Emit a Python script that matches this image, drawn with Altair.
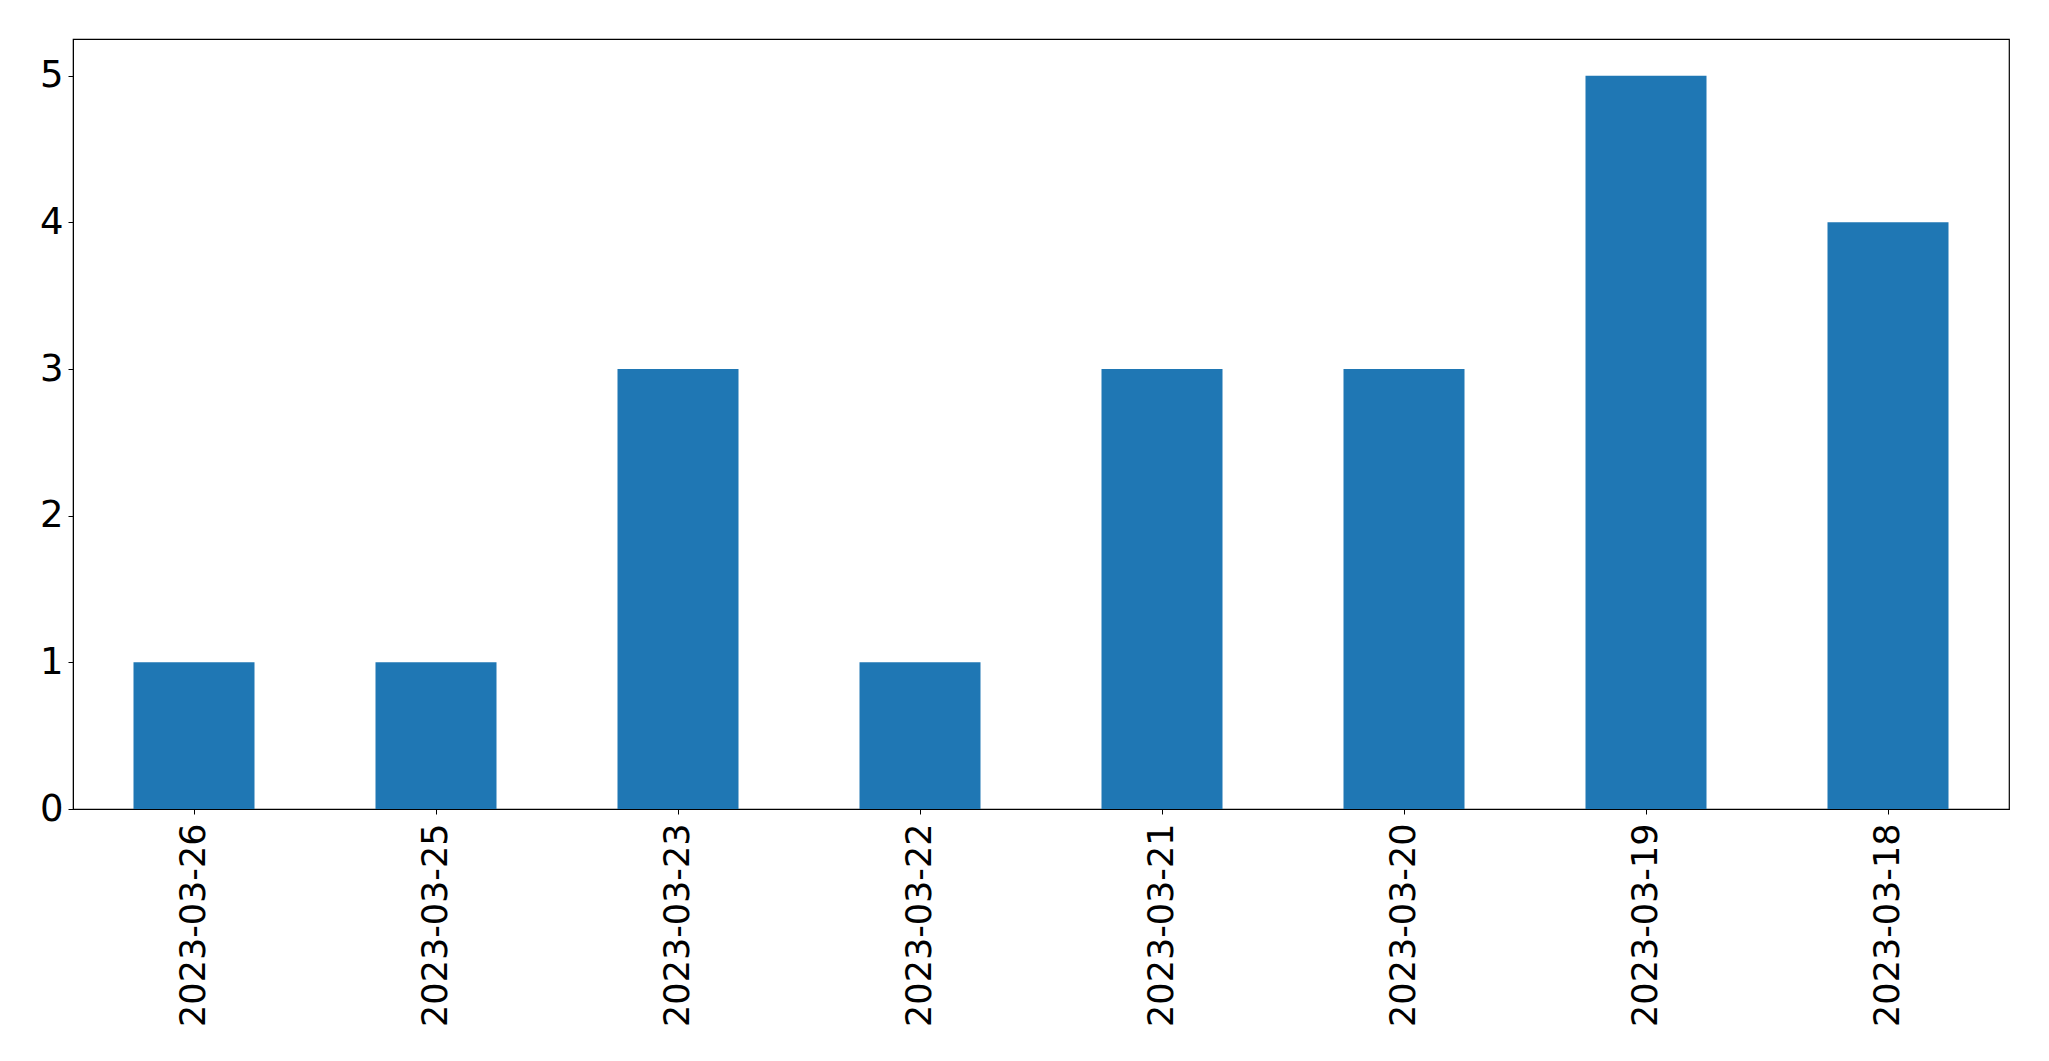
import altair as alt
import pandas as pd

dates = ["2023-03-26", "2023-03-25", "2023-03-23", "2023-03-22",
         "2023-03-21", "2023-03-20", "2023-03-19", "2023-03-18"]
counts = [1, 1, 3, 1, 3, 3, 5, 4]
y_ticks = [0, 1, 2, 3, 4, 5]

df = pd.DataFrame({"date": dates, "count": counts})

FONT = "DejaVu Sans"

chart = alt.Chart(df).mark_bar(color="#1f77b4").encode(
    x=alt.X("date:N", sort=None, title=None,
            scale=alt.Scale(paddingInner=0.5, paddingOuter=0.25),
            axis=alt.Axis(labelAngle=270, labelFont=FONT, labelFontSize=35,
                          labelColor="black", tickColor="black", tickSize=5,
                          tickWidth=1, domainColor="black", domainWidth=1,
                          labelPadding=9, labelLimit=0, grid=False)),
    y=alt.Y("count:Q", title=None,
            scale=alt.Scale(domain=[0, 5.25], nice=False, zero=True),
            axis=alt.Axis(values=y_ticks, labelFont=FONT, labelFontSize=37,
                          labelColor="black", tickColor="black", tickSize=5,
                          tickWidth=1, domainColor="black", domainWidth=1,
                          labelPadding=5, grid=False, format="d")),
).properties(
    width=1936, height=770,
    autosize=alt.AutoSizeParams(type="none"),
    padding={"left": 65, "top": 31, "right": 20, "bottom": 240},
).configure(
    background="white"
).configure_view(
    stroke="black", strokeWidth=1.2
)

chart.save("out.html", embed_options={"renderer": "svg", "actions": False})
